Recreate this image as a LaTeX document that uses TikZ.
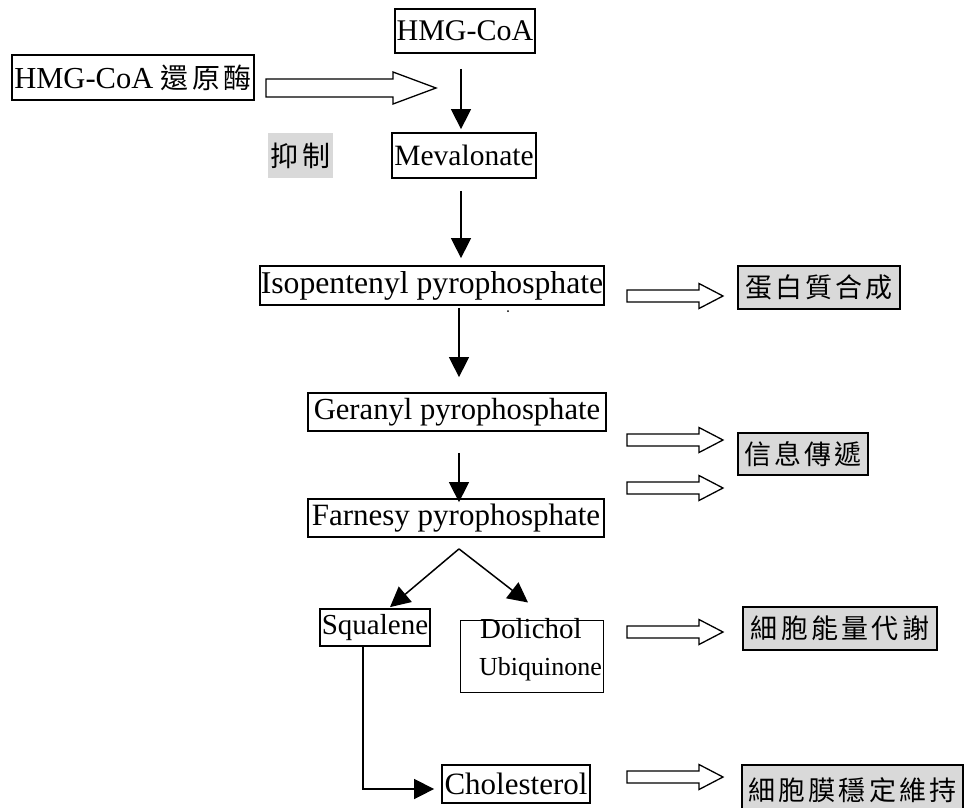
\documentclass[tikz,border=0pt]{standalone}
\usepackage{fontspec}
\setmainfont{Liberation Serif}
\newfontfamily\cjkf{Noto Sans CJK TC}[LetterSpace=12]
\usetikzlibrary{arrows.meta,calc}
\definecolor{boxgray}{gray}{0.85}
\newcommand{\fsz}[1]{\fontsize{#1}{#1}\selectfont}
\newcommand{\hollowarr}[5]{%
  \draw[hollowarrow] ($(#1)+(0,-#3)$) -- ($(#2)+(-#5,-#3)$) -- ($(#2)+(-#5,-#4)$) -- (#2)
    -- ($(#2)+(-#5,#4)$) -- ($(#2)+(-#5,#3)$) -- ($(#1)+(0,#3)$) -- cycle;}
\begin{document}
\begin{tikzpicture}[x=1pt,y=-1pt,
  bx/.style={draw, line width=1.8pt, inner sep=0pt, align=center},
  gbx/.style={bx, fill=boxgray, font=\cjkf\fsz{27}},
  arr/.style={line width=1.5pt, -{Triangle[length=20pt,width=20pt]}},
  hollowarrow/.style={draw, line width=1.3pt, fill=white, line join=miter}]
\fill[white] (0,0) rectangle (969,807);
\useasboundingbox (0,0) rectangle (969,807);

% nodes
\node[bx, minimum width=140pt, minimum height=44pt, font=\fsz{30}] (hmg) at (465,31) {HMG-CoA};
\node[bx, minimum width=242pt, minimum height=45pt, font=\fsz{30.5}] (red) at (133,77.5) {HMG-CoA {\cjkf\fsz{28}還原酶}};
\node[fill=boxgray, inner sep=0pt, minimum width=65pt, minimum height=45pt, font=\cjkf\fsz{28}] (yi) at (300.5,155.5) {抑制};
\node[bx, minimum width=144pt, minimum height=45pt, font=\fsz{29.5}] (mev) at (464,155.5) {Mevalonate};
\node[bx, minimum width=344pt, minimum height=39pt, font=\fsz{31.7}] (iso) at (432,285.5) {Isopentenyl pyrophosphate};
\node[gbx, minimum width=162pt, minimum height=43pt] (pro) at (819,287.5) {蛋白質合成};
\node[bx, minimum width=298pt, minimum height=38pt, font=\fsz{30.6}] (ger) at (457,412) {Geranyl pyrophosphate};
\node[gbx, minimum width=130pt, minimum height=42pt] (sig) at (803,454) {信息傳遞};
\node[bx, minimum width=296pt, minimum height=38pt, font=\fsz{31}] (far) at (456,518) {Farnesy pyrophosphate};
\node[bx, minimum width=110pt, minimum height=37pt, font=\fsz{29}] (squ) at (375,627.5) {Squalene};
\node[draw, line width=1pt, inner sep=0pt, minimum width=143pt, minimum height=72pt] (dol) at (531.5,656) {};
\node[anchor=base west, inner sep=0pt, font=\fsz{29}] (dolt) at (480,638) {Dolichol};
\node[anchor=base west, inner sep=0pt, font=\fsz{26}] (ubit) at (479,675) {Ubiquinone};
\node[gbx, minimum width=194pt, minimum height=43pt] (ene) at (840,628.5) {細胞能量代謝};
\node[bx, minimum width=148pt, minimum height=38pt, font=\fsz{31}] (cho) at (516,784) {Cholesterol};
\node[gbx, minimum width=221pt, minimum height=50pt] (mem) at (852.5,790) {細胞膜穩定維持};

% black connectors
\draw[arr, shorten <=15pt, shorten >=3pt] ([xshift=-4pt]hmg.south) -- ([xshift=-4pt]hmg.south |- mev.north);
\draw[arr, shorten <=12pt, shorten >=7pt] ([xshift=-3pt]mev.south) -- ([xshift=-3pt]mev.south |- iso.north);
\draw[arr, shorten <=2pt, shorten >=15pt] ([xshift=27pt]iso.south) -- ([xshift=27pt]iso.south |- ger.north);
\draw[arr, shorten <=21pt, shorten >=-4pt] ([xshift=2pt]ger.south) -- ([xshift=2pt]ger.south |- far.north);
\coordinate (apex) at ([xshift=3pt,yshift=-11pt]far.south);
\draw[arr] (apex) -- ([xshift=15pt,yshift=1pt]squ.north);
\draw[arr] (apex) -- ([xshift=-3.5pt,yshift=17pt]dol.north);
\draw[arr, shorten >=7pt] ([xshift=-12pt]squ.south) |- ([yshift=-5pt]cho.west);

% hollow arrows
\coordinate (h0s) at (266,88);  \coordinate (h0e) at (436,88);
\coordinate (h1s) at (627,296); \coordinate (h1e) at (723,296);
\coordinate (h2s) at (627,440); \coordinate (h2e) at (723,440);
\coordinate (h3s) at (627,488); \coordinate (h3e) at (723,488);
\coordinate (h4s) at (627,632); \coordinate (h4e) at (723,632);
\coordinate (h5s) at (627,777); \coordinate (h5e) at (723,777);
\hollowarr{h0s}{h0e}{9}{16}{43}
\hollowarr{h1s}{h1e}{6}{12.5}{24}
\hollowarr{h2s}{h2e}{6}{12.5}{24}
\hollowarr{h3s}{h3e}{6}{12.5}{24}
\hollowarr{h4s}{h4e}{6}{12.5}{24}
\hollowarr{h5s}{h5e}{6}{12.5}{24}

% stray dot
\fill (508,311) circle (1pt);
\end{tikzpicture}
\end{document}
